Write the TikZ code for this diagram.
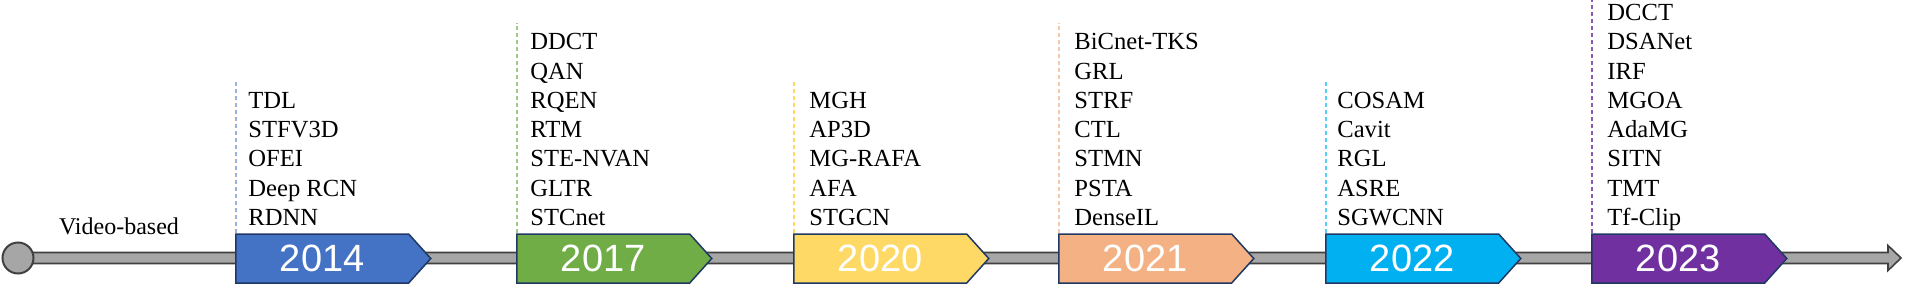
\documentclass[tikz,border=0pt]{standalone}
\usepackage{fontspec}
\setmainfont{Liberation Serif}
\newfontfamily\yearfont{Liberation Sans}
\usetikzlibrary{shapes.symbols,calc}

\definecolor{c14}{HTML}{4472C4}
\definecolor{c17}{HTML}{70AD47}
\definecolor{c20}{HTML}{FFD966}
\definecolor{c21}{HTML}{F4B183}
\definecolor{c22}{HTML}{00B0F0}
\definecolor{c23}{HTML}{7030A0}
\definecolor{rim}{HTML}{1F3864}

\begin{document}
\begin{tikzpicture}[x=0.5pt, y=-0.5pt,
  yearbox/.style={signal, signal to=east, signal pointer angle=96, draw=rim, line width=0.75pt,
    minimum width=97.5pt, minimum height=24.5pt, inner sep=0pt, anchor=west,
    text=white, font=\yearfont\fontsize{19}{19}\selectfont},
  item/.style={anchor=base west, inner sep=0pt, font=\fontsize{12.3}{14}\selectfont},
  stem/.style={line width=0.75pt, dash pattern=on 2pt off 1.5pt},
  bar/.style={draw=black!75, fill=black!35, line width=0.8pt}]
  \useasboundingbox (0,0) rectangle (1905,289);
  % time line
  \coordinate (start) at (18,258);
  \coordinate (tip) at (1901,258);
  \draw[bar] ($(start)+(0,-5.5)$) -- ($(tip)+(-13,-5.5)$) -- ($(tip)+(-13,-12.5)$) -- (tip)
    -- ($(tip)+(-13,12.5)$) -- ($(tip)+(-13,5.5)$) -- ($(start)+(0,5.5)$) -- cycle;
  \node[circle, draw=black!75, fill=black!35, line width=1pt, minimum size=15.5pt, inner sep=0pt] (dot) at (start) {};
  \node[anchor=base, font=\fontsize{12}{14}\selectfont] (vb) at (119,234) {Video-based};
  % 2014
  \node[yearbox, fill=c14] (b14) at (235,258.5) {2014};
  \foreach \m [count=\i] in {TDL,STFV3D,OFEI,Deep RCN,RDNN}
    \node[item] (l14-\i) at (248,{225.5-29.3*(5-\i)}) {\m};
  \draw[stem, c14!55] ($(b14.west |- b14.north)+(1,0)$) -- ($(b14.west |- l14-1.north)+(1,-10)$);
  % 2017
  \node[yearbox, fill=c17] (b17) at (516,258.5) {2017};
  \foreach \m [count=\i] in {DDCT,QAN,RQEN,RTM,STE-NVAN,GLTR,STCnet}
    \node[item] (l17-\i) at (530,{225.5-29.3*(7-\i)}) {\m};
  \draw[stem, c17!65] ($(b17.west |- b17.north)+(1,0)$) -- ($(b17.west |- l17-1.north)+(1,-10)$);
  % 2020
  \node[yearbox, fill=c20] (b20) at (793,258.5) {2020};
  \foreach \m [count=\i] in {MGH,AP3D,MG-RAFA,AFA,STGCN}
    \node[item] (l20-\i) at (809,{225.5-29.3*(5-\i)}) {\m};
  \draw[stem, c20] ($(b20.west |- b20.north)+(1,0)$) -- ($(b20.west |- l20-1.north)+(1,-10)$);
  % 2021
  \node[yearbox, fill=c21] (b21) at (1058,258.5) {2021};
  \foreach \m [count=\i] in {BiCnet-TKS,GRL,STRF,CTL,STMN,PSTA,DenseIL}
    \node[item] (l21-\i) at (1074,{225.5-29.3*(7-\i)}) {\m};
  \draw[stem, c21!70] ($(b21.west |- b21.north)+(1,0)$) -- ($(b21.west |- l21-1.north)+(1,-10)$);
  % 2022
  \node[yearbox, fill=c22] (b22) at (1325,258.5) {2022};
  \foreach \m [count=\i] in {COSAM,Cavit,RGL,ASRE,SGWCNN}
    \node[item] (l22-\i) at (1337,{225.5-29.3*(5-\i)}) {\m};
  \draw[stem, c22!65] ($(b22.west |- b22.north)+(1,0)$) -- ($(b22.west |- l22-1.north)+(1,-10)$);
  % 2023
  \node[yearbox, fill=c23] (b23) at (1591,258.5) {2023};
  \foreach \m [count=\i] in {DCCT,DSANet,IRF,MGOA,AdaMG,SITN,TMT,Tf-Clip}
    \node[item] (l23-\i) at (1607,{225.5-29.3*(8-\i)}) {\m};
  \draw[stem, c23!80] ($(b23.west |- b23.north)+(1,0)$) -- ($(b23.west |- l23-1.north)+(1,-10)$);
\end{tikzpicture}
\end{document}
